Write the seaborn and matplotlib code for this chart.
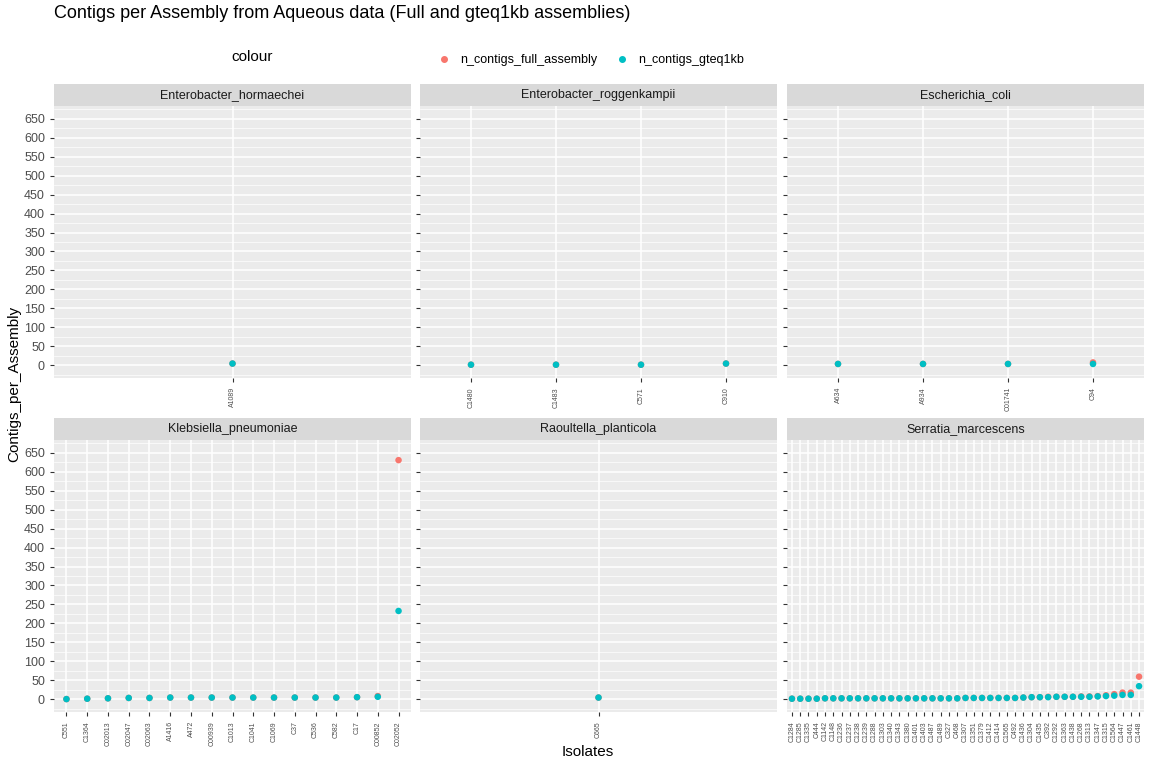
import numpy as np
import pandas as pd
import seaborn as sns
import matplotlib.pyplot as plt
from matplotlib.lines import Line2D

species = ['Enterobacter_hormaechei', 'Enterobacter_roggenkampii', 'Escherichia_coli',
           'Klebsiella_pneumoniae', 'Raoultella_planticola', 'Serratia_marcescens']

isolates = {
    'Enterobacter_hormaechei': ['A1089'],
    'Enterobacter_roggenkampii': ['C1480', 'C1483', 'C571', 'C910'],
    'Escherichia_coli': ['A634', 'A934', 'C01741', 'C94'],
    'Klebsiella_pneumoniae': ['C551', 'C1364', 'C02013', 'C02047', 'C02063', 'A1416', 'A472', 'C00939',
                              'C1013', 'C1041', 'C1069', 'C37', 'C536', 'C582', 'C17', 'C00852', 'C02052'],
    'Raoultella_planticola': ['C665'],
    'Serratia_marcescens': ['C1284', 'C1285', 'C1335', 'C444', 'C1142', 'C1148', 'C1236', 'C1237', 'C1238',
                            'C1239', 'C1288', 'C1303', 'C1340', 'C1343', 'C1380', 'C1401', 'C1403', 'C1487',
                            'C1489', 'C327', 'C468', 'C1307', 'C1351', 'C1379', 'C1412', 'C1414', 'C1565',
                            'C492', 'C1436', 'C1304', 'C1435', 'C392', 'C1292', 'C1363', 'C1438', 'C1268',
                            'C1313', 'C1347', 'C1315', 'C1564', 'C1447', 'C1461', 'C1448'],
}

gteq1kb = {
    'Enterobacter_hormaechei': [5],
    'Enterobacter_roggenkampii': [2, 2, 2, 5],
    'Escherichia_coli': [4, 4, 4, 4],
    'Klebsiella_pneumoniae': [1, 2, 3, 4, 4, 5, 5, 5, 5, 5, 5, 5, 5, 5, 6, 7, 233],
    'Raoultella_planticola': [5],
    'Serratia_marcescens': [2, 2, 2, 2, 3, 3, 3, 3, 3, 3, 3, 3, 3, 3, 3, 3, 3, 3, 3, 3, 3, 4, 4, 4, 4,
                            4, 4, 4, 5, 6, 6, 6, 7, 7, 7, 7, 7, 8, 9, 10, 12, 12, 35],
}

full_assembly = {
    'Enterobacter_hormaechei': [5],
    'Enterobacter_roggenkampii': [2, 2, 2, 5],
    'Escherichia_coli': [4, 4, 4, 8],
    'Klebsiella_pneumoniae': [1, 2, 3, 4, 4, 5, 5, 5, 5, 5, 5, 5, 5, 5, 6, 9, 630],
    'Raoultella_planticola': [5],
    'Serratia_marcescens': [2, 2, 2, 2, 3, 3, 3, 3, 3, 3, 3, 3, 3, 3, 3, 3, 3, 3, 3, 3, 3, 4, 4, 4, 4,
                            4, 4, 4, 5, 6, 6, 7, 7, 7, 7, 8, 8, 9, 11, 14, 18, 18, 60],
}

red, teal = '#F8766D', '#00BFC4'

plt.rcParams['font.family'] = ['Liberation Sans', 'DejaVu Sans']
fig = plt.figure(figsize=(11.52, 7.68), dpi=100)

lefts = [54, 420, 787]
tops = [84, 418]
pw, ph, sh = 357, 294, 22
W, H = 1152, 768

for i, sp in enumerate(species):
    r, c = divmod(i, 3)
    x0, ytop = lefts[c], tops[r]
    ax = fig.add_axes([x0 / W, 1 - (ytop + ph) / H, pw / W, (ph - sh) / H])
    n = len(isolates[sp])
    df = pd.DataFrame({
        'Isolates': list(range(n)) * 2,
        'value': full_assembly[sp] + gteq1kb[sp],
        'colour': ['n_contigs_full_assembly'] * n + ['n_contigs_gteq1kb'] * n,
    })
    ax.set_facecolor('#EBEBEB')
    for y in np.arange(-25, 676, 50):
        ax.axhline(y, color='white', lw=0.5, zorder=0)
    sns.scatterplot(data=df, x='Isolates', y='value', hue='colour',
                    palette=[red, teal], s=22, linewidth=0, ax=ax, legend=False, zorder=3)
    ax.grid(True, color='white', lw=1.1, zorder=1)
    ax.set_axisbelow(True)
    ax.set_xlim(-0.6, n - 0.4)
    ax.set_ylim(-33, 683)
    ax.set_yticks(range(0, 651, 50))
    ax.set_xticks(range(n))
    ax.set_xticklabels(isolates[sp], rotation=90, fontsize=5, color='#4D4D4D')
    ax.tick_params(axis='both', length=3, color='#333333', width=0.8)
    ax.tick_params(axis='y', labelsize=9, labelcolor='#4D4D4D')
    if c != 0:
        ax.set_yticklabels([])
    ax.set_xlabel('')
    ax.set_ylabel('')
    for s in ax.spines.values():
        s.set_visible(False)
    sax = fig.add_axes([x0 / W, 1 - (ytop + sh) / H, pw / W, sh / H])
    sax.set_facecolor('#D9D9D9')
    sax.set_xticks([]); sax.set_yticks([])
    for s in sax.spines.values():
        s.set_visible(False)
    sax.text(0.5, 0.5, sp, ha='center', va='center', fontsize=9, color='#1A1A1A')

fig.text(54 / W, 1 - 14 / H, 'Contigs per Assembly from Aqueous data (Full and gteq1kb assemblies)',
         fontsize=13, va='center')
fig.text(0.51, 1 - 752 / H, 'Isolates', fontsize=11, ha='center', va='center')
fig.text(14 / W, 0.5, 'Contigs_per_Assembly', fontsize=11, rotation=90, ha='center', va='center')

handles = [Line2D([], [], marker='o', ls='', color=red, markersize=4),
           Line2D([], [], marker='o', ls='', color=teal, markersize=4)]
leg = fig.legend(handles, ['n_contigs_full_assembly', 'n_contigs_gteq1kb'], title='colour',
                 loc='center', bbox_to_anchor=(0.51, 1 - 50 / H), ncol=2, frameon=False,
                 fontsize=9, title_fontsize=11, handletextpad=0.3, columnspacing=1.0)
leg._legend_box.align = 'left'
# put title to the left of entries
leg.get_title().set_position((-200, -16))

fig.savefig('out.png', dpi=100)
